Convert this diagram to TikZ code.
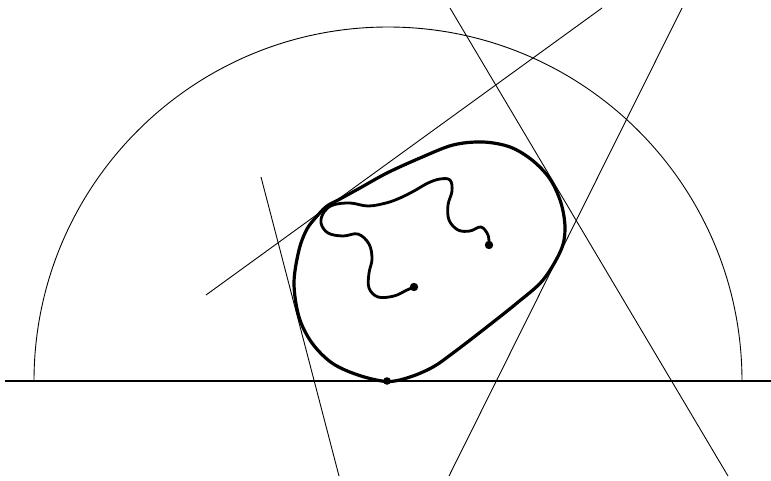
\documentclass[tikz,border=0pt]{standalone}
\begin{document}
\begin{tikzpicture}[x=1pt,y=-1pt,
  thinline/.style={line width=0.9pt},
  thickline/.style={line width=3.2pt, line join=round},
  wiggle/.style={line width=2.8pt, line cap=round, line join=round},
  dotmark/.style={fill=black}]
\useasboundingbox (0,0) rectangle (771,480);
% base line and semicircle
\coordinate (hl) at (5,381);
\coordinate (hr) at (771,381);
\draw[line width=1.4pt] (hl) -- (hr);
\coordinate (arcL) at (34,381);
\draw[thinline] (arcL) arc[start angle=180, end angle=0, radius=354pt];
% tangent lines
\coordinate (a1) at (206,295); \coordinate (a2) at (602,8);
\coordinate (b1) at (261,177); \coordinate (b2) at (339,476);
\coordinate (c1) at (450,8);   \coordinate (c2) at (728,476);
\coordinate (d1) at (682,8);   \coordinate (d2) at (449,476);
\draw[thinline] (a1) -- (a2);
\draw[thinline] (b1) -- (b2);
\draw[thinline] (c1) -- (c2);
\draw[thinline] (d1) -- (d2);
% capsule
\draw[thickline] plot[smooth cycle, tension=0.55] coordinates {
 (387,381.5) (358,375) (332,363) (312,343) (299,317) (294,283) (299,250)
 (307,229) (318,215) (327,206) (340,199) (360,188) (387,173) (420,158) (453,145)
 (483,142) (510,147) (532,160) (550,179) (561,203) (565,228) (561,250)
 (543,280) (517,303) (483,330) (453,353) (433,367) (410,377)};
% wiggly curve
\coordinate (p) at (489,245);
\coordinate (q) at (414,287);
\draw[wiggle] plot[smooth, tension=0.6] coordinates {
 (489,245) (488,235) (481,227) (470,231) (458,230) (449,220) (448,205)
 (452,191) (450,180) (440,179) (428,183) (414,191) (400,198) (386,203)
 (368,206) (350,203) (333,205) (324,212) (321,223) (328,233) (343,236)
 (358,234) (369,244) (372,259) (369,273) (369,288) (378,297) (394,296)
 (407,290) (414,287)};
\fill[dotmark] (p) circle[radius=4.2pt];
\fill[dotmark] (q) circle[radius=4.2pt];
\coordinate (bot) at (387,381);
\fill[dotmark] (bot) circle[radius=3.8pt];
\end{tikzpicture}
\end{document}
